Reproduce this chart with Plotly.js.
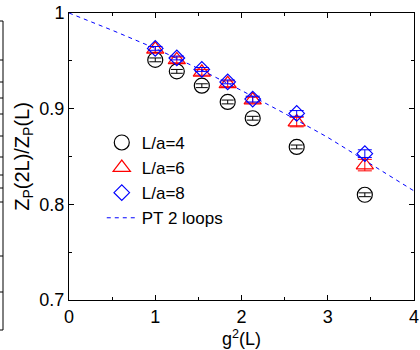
<!DOCTYPE html>
<html>
<head>
<meta charset="utf-8">
<script src="https://cdn.plot.ly/plotly-3.0.1.min.js"></script>
<style>html,body{margin:0;padding:0;background:#fff;}#chart{width:420px;height:350px;}</style>
</head>
<body>
<div id="chart"></div>
<script>
// g^2(L) values of the data points
var g2 = [1.0, 1.25, 1.54, 1.84, 2.13, 2.64, 3.43];
// Z_P(2L)/Z_P(L)
var la4 = [0.951, 0.939, 0.924, 0.907, 0.890, 0.860, 0.810];
var la4Err = [0.002, 0.002, 0.002, 0.002, 0.002, 0.002, 0.002];
var la6 = [0.962, 0.951, 0.938, 0.926, 0.909, 0.886, 0.841];
var la6Err = [0.003, 0.003, 0.003, 0.003, 0.003, 0.005, 0.006];
var la8 = [0.963, 0.953, 0.941, 0.928, 0.910, 0.895, 0.853];
var la8Err = [0.002, 0.002, 0.002, 0.002, 0.003, 0.003, 0.004];
// PT 2 loops curve
var ptX = [0, 0.5, 1, 1.5, 2, 2.5, 3, 3.5, 4];
var ptY = [1.000, 0.982, 0.963, 0.942, 0.919, 0.895, 0.870, 0.842, 0.814];
var xTicks = [0, 1, 2, 3, 4];
var xTickText = ['0', '1', '2', '3', '4'];
var yTicks = [0.7, 0.8, 0.9, 1.0];
var yTickText = ['0.7', '0.8', '0.9', '1'];

var font = 'Liberation Sans, Arial, sans-serif';

var traces = [
  {x: g2, y: la4, name: 'L/a=4', mode: 'markers', type: 'scatter',
   marker: {symbol: 'circle-open', size: 15, color: '#000', line: {width: 1.2, color: '#000'}},
   error_y: {type: 'data', array: la4Err, visible: true, color: '#000', thickness: 1, width: 6}},
  {x: g2, y: la6, name: 'L/a=6', mode: 'markers', type: 'scatter',
   marker: {symbol: 'triangle-up-open', size: 15, color: '#ff0000', line: {width: 1.2, color: '#ff0000'}},
   error_y: {type: 'data', array: la6Err, visible: true, color: '#ff0000', thickness: 1, width: 7}},
  {x: g2, y: la8, name: 'L/a=8', mode: 'markers', type: 'scatter',
   marker: {symbol: 'diamond-open', size: 12, color: '#0000ff', line: {width: 1.2, color: '#0000ff'}},
   error_y: {type: 'data', array: la8Err, visible: true, color: '#0000ff', thickness: 1, width: 7}},
  {x: ptX, y: ptY, name: 'PT 2 loops', mode: 'lines', type: 'scatter',
   line: {color: '#0000ff', width: 1, dash: '4px,4px'}}
];

// neighbouring panel's axis at the far left edge (decoration)
var leftTicks = [21, 60, 82, 98, 114, 136, 157, 175, 188, 202, 256, 292, 330];
var shapes = [{type: 'line', xref: 'paper', yref: 'paper',
  x0: (3 - 69) / 345, x1: (3 - 69) / 345, y0: (300 - 21) / 287, y1: (300 - 330) / 287,
  line: {color: '#000', width: 1}}];
leftTicks.forEach(function (py) {
  shapes.push({type: 'line', xref: 'paper', yref: 'paper',
    x0: (0 - 69) / 345, x1: (3 - 69) / 345, y0: (300 - py) / 287, y1: (300 - py) / 287,
    line: {color: '#000', width: 1}});
});

var layout = {
  width: 420, height: 350,
  margin: {l: 69, r: 6, t: 13, b: 50},
  paper_bgcolor: '#fff', plot_bgcolor: '#fff',
  font: {family: font, size: 18, color: '#000'},
  showlegend: true,
  legend: {x: 0.095, y: 0.61, xanchor: 'left', yanchor: 'top', bgcolor: 'rgba(0,0,0,0)',
           font: {family: font, size: 17, color: '#000'}, tracegroupgap: 0, itemwidth: 30},
  xaxis: {range: [0, 4], tickvals: xTicks, ticktext: xTickText, ticks: 'inside', ticklen: 5,
          tickcolor: '#000', showline: true, linecolor: '#000', linewidth: 1, mirror: 'ticks',
          showgrid: false, zeroline: false, tickfont: {size: 18},
          minor: {tickvals: [0.5, 1.5, 2.5, 3.5], ticks: 'inside', ticklen: 3, tickcolor: '#000', showgrid: false},
          title: {text: 'g<sup>2</sup>(L)', font: {size: 18}, standoff: 2}},
  yaxis: {range: [0.7, 1.0], tickvals: yTicks, ticktext: yTickText, ticks: 'inside', ticklen: 5,
          tickcolor: '#000', showline: true, linecolor: '#000', linewidth: 1, mirror: 'ticks',
          showgrid: false, zeroline: false, tickfont: {size: 18},
          minor: {tickvals: [0.75, 0.85, 0.95], ticks: 'inside', ticklen: 3, tickcolor: '#000', showgrid: false},
          title: {text: 'Z<sub>P</sub>(2L)/Z<sub>P</sub>(L)', font: {size: 20}, standoff: 4}},
  shapes: shapes
};

Plotly.newPlot('chart', traces, layout, {displayModeBar: false, staticPlot: true});
</script>
</body>
</html>
